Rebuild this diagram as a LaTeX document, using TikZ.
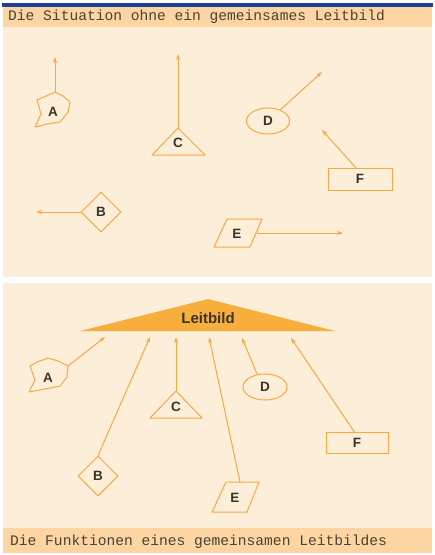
\documentclass[tikz,border=0pt]{standalone}
\usepackage{fontspec}
\setmainfont{Liberation Sans}
\newfontfamily\monofont{Liberation Mono}
\usetikzlibrary{arrows.meta,shapes.geometric}
\definecolor{ln}{HTML}{F8A840}
\definecolor{bg}{HTML}{FDEEDA}
\definecolor{band}{HTML}{FCD5A2}
\definecolor{leit}{HTML}{F8AE3C}
\definecolor{bar}{HTML}{1E3F9A}
\definecolor{txt}{HTML}{3A3428}
\definecolor{htxt}{HTML}{4A4232}
\begin{document}
\begin{tikzpicture}[x=1pt,y=-1pt,
  shp/.style={draw=ln,line width=1pt},
  lbl/.style={font=\bfseries\fontsize{13.5}{13.5}\selectfont,text=txt,inner sep=0pt},
  con/.style={draw=ln,line width=1pt,-{Stealth[length=6pt,width=4pt]}},
  hdr/.style={font=\monofont\fontsize{14.6}{14.6}\selectfont,text=htxt,anchor=west,inner sep=0pt}]
\useasboundingbox (0,0) rectangle (435,555);
\fill[white] (0,0) rectangle (435,555);
% blue bar
\fill[bar] (2,3) rectangle (433,7);
% panels
\fill[bg] (3,7) rectangle (432,277);
\fill[bg] (3,283) rectangle (432,553);
\fill[band] (3,7) rectangle (432,27);
\fill[band] (3,528) rectangle (432,553);
\node[hdr] (h1) at (8,17) {Die Situation ohne ein gemeinsames Leitbild};
\node[hdr] (h2) at (10,542) {Die Funktionen eines gemeinsamen Leitbildes};

% ===== top panel =====
% A
\draw[shp,line join=round] (37,100) -- (44,97) -- (55,92) -- (63,96) -- (70,102) -- (68,112) -- (60,122) -- (47,124) -- (35,127) -- (41,114) -- cycle;
\node[lbl] (A1) at (53,112) {A};
\coordinate (A1s) at (55,92);
\coordinate (A1t) at (55,57);
\draw[con] (A1s) -- (A1t);
% C
\draw[shp,line join=round] (152,155) -- (205,155) -- (178,128) -- cycle;
\node[lbl] (C1) at (178,143) {C};
\coordinate (C1s) at (178,128);
\coordinate (C1t) at (178,54);
\draw[con] (C1s) -- (C1t);
% D
\node[shp,ellipse,minimum width=43pt,minimum height=26pt,inner sep=0pt] (D1) at (268,121) {};
\node[lbl] at (D1) {D};
\coordinate (D1t) at (322,72);
\draw[con] (D1) -- (D1t);
% F
\node[shp,rectangle,minimum width=64pt,minimum height=22pt,inner sep=0pt] (F1) at (360,179) {};
\node[lbl] at (F1) {F};
\coordinate (F1s) at (356,168);
\coordinate (F1t) at (322,130);
\draw[con] (F1s) -- (F1t);
% B
\node[shp,diamond,minimum width=40pt,minimum height=40pt,inner sep=0pt] (B1) at (101,212) {};
\node[lbl] at (B1) {B};
\coordinate (B1t) at (36,212);
\draw[con] (B1.west) -- (B1t);
% E
\draw[shp,line join=round] (227,219) -- (262,219) -- (250,247) -- (214,247) -- cycle;
\node[lbl] (E1) at (237,234) {E};
\coordinate (E1s) at (257,233);
\coordinate (E1t) at (343,233);
\draw[con] (E1s) -- (E1t);

% ===== bottom panel =====
\fill[leit] (80,331) -- (208,299) -- (335,331) -- cycle;
\node[font=\bfseries\fontsize{15}{15}\selectfont,text=txt,inner sep=0pt] (L) at (208,318) {Leitbild};
% A
\draw[shp,line join=round] (30,366) -- (37,362) -- (48,358) -- (58,361) -- (68,366) -- (67,377) -- (60,386) -- (45,389) -- (29,392) -- (35,380) -- cycle;
\node[lbl] (A2) at (48,378) {A};
\coordinate (A2s) at (68,366);
\coordinate (A2t) at (105,337);
\draw[con] (A2s) -- (A2t);
% B
\node[shp,diamond,minimum width=40pt,minimum height=40pt,inner sep=0pt] (B2) at (98,476) {};
\node[lbl] at (B2) {B};
\coordinate (B2t) at (150,337);
\draw[con] (B2.north) -- (B2t);
% C
\draw[shp,line join=round] (150,418) -- (202,418) -- (176,391) -- cycle;
\node[lbl] (C2) at (176,407) {C};
\coordinate (C2s) at (176,391);
\coordinate (C2t) at (176,337);
\draw[con] (C2s) -- (C2t);
% D
\node[shp,ellipse,minimum width=44pt,minimum height=26pt,inner sep=0pt] (D2) at (265,387) {};
\node[lbl] at (D2) {D};
\coordinate (D2s) at (257,374);
\coordinate (D2t) at (242,338);
\draw[con] (D2s) -- (D2t);
% E
\draw[shp,line join=round] (226,482) -- (259,482) -- (247,512) -- (212,512) -- cycle;
\node[lbl] (E2) at (235,498) {E};
\coordinate (E2s) at (240,482);
\coordinate (E2t) at (209,337);
\draw[con] (E2s) -- (E2t);
% F
\node[shp,rectangle,minimum width=62pt,minimum height=21pt,inner sep=0pt] (F2) at (357,443) {};
\node[lbl] at (F2) {F};
\coordinate (F2s) at (355,433);
\coordinate (F2t) at (291,338);
\draw[con] (F2s) -- (F2t);
\end{tikzpicture}
\end{document}
